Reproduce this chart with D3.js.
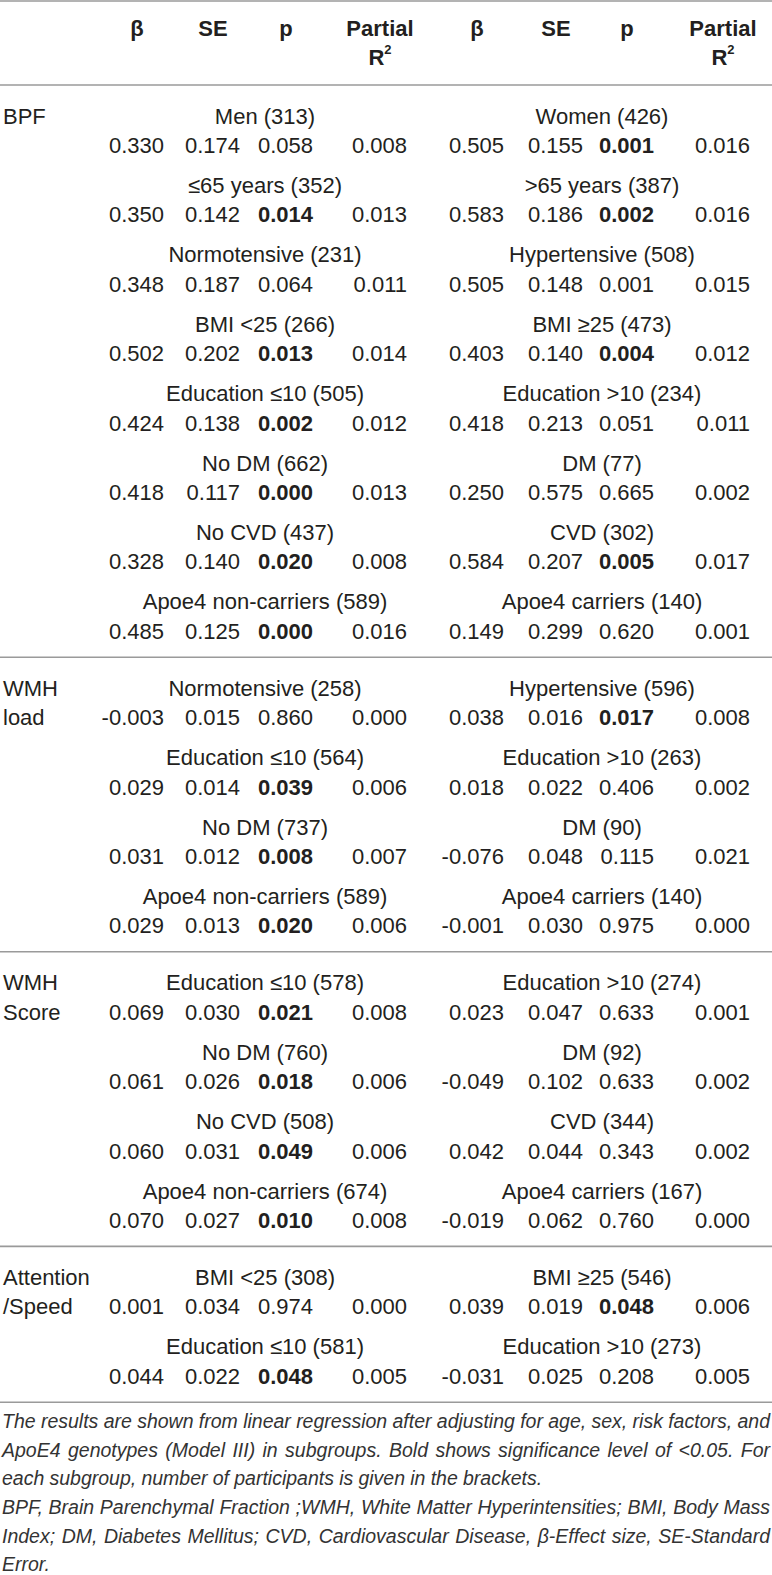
<!DOCTYPE html>
<html>
<head>
<meta charset="utf-8">
<script src="https://cdn.jsdelivr.net/npm/d3@7"></script>
<style>
  body { margin: 0; background: #fff; }
  svg { display: block; }
</style>
</head>
<body>
<div id="table"></div>
<script>
// column headings
const headers = ["β", "SE", "p", "Partial"];

// row headings of each block, and how many subgroup pairs each holds
const sectionLabels = [["BPF"], ["WMH", "load"], ["WMH", "Score"], ["Attention", "/Speed"]];
const sectionSizes = [8, 4, 4, 2];

const leftGroups = [
    "Men (313)", "≤65 years (352)", "Normotensive (231)", "BMI <25 (266)",
    "Education ≤10 (505)", "No DM (662)", "No CVD (437)", "Apoe4 non-carriers (589)",
    "Normotensive (258)", "Education ≤10 (564)", "No DM (737)", "Apoe4 non-carriers (589)",
    "Education ≤10 (578)", "No DM (760)", "No CVD (508)", "Apoe4 non-carriers (674)",
    "BMI <25 (308)", "Education ≤10 (581)"
];
const rightGroups = [
    "Women (426)", ">65 years (387)", "Hypertensive (508)", "BMI ≥25 (473)",
    "Education >10 (234)", "DM (77)", "CVD (302)", "Apoe4 carriers (140)",
    "Hypertensive (596)", "Education >10 (263)", "DM (90)", "Apoe4 carriers (140)",
    "Education >10 (274)", "DM (92)", "CVD (344)", "Apoe4 carriers (167)",
    "BMI ≥25 (546)", "Education >10 (273)"
];

// β, SE, p, partial R²
const leftValues = [
    [0.330, 0.174, 0.058, 0.008], [0.350, 0.142, 0.014, 0.013],
    [0.348, 0.187, 0.064, 0.011], [0.502, 0.202, 0.013, 0.014],
    [0.424, 0.138, 0.002, 0.012], [0.418, 0.117, 0.000, 0.013],
    [0.328, 0.140, 0.020, 0.008], [0.485, 0.125, 0.000, 0.016],
    [-0.003, 0.015, 0.860, 0.000], [0.029, 0.014, 0.039, 0.006],
    [0.031, 0.012, 0.008, 0.007], [0.029, 0.013, 0.020, 0.006],
    [0.069, 0.030, 0.021, 0.008], [0.061, 0.026, 0.018, 0.006],
    [0.060, 0.031, 0.049, 0.006], [0.070, 0.027, 0.010, 0.008],
    [0.001, 0.034, 0.974, 0.000], [0.044, 0.022, 0.048, 0.005]
];
const rightValues = [
    [0.505, 0.155, 0.001, 0.016], [0.583, 0.186, 0.002, 0.016],
    [0.505, 0.148, 0.001, 0.015], [0.403, 0.140, 0.004, 0.012],
    [0.418, 0.213, 0.051, 0.011], [0.250, 0.575, 0.665, 0.002],
    [0.584, 0.207, 0.005, 0.017], [0.149, 0.299, 0.620, 0.001],
    [0.038, 0.016, 0.017, 0.008], [0.018, 0.022, 0.406, 0.002],
    [-0.076, 0.048, 0.115, 0.021], [-0.001, 0.030, 0.975, 0.000],
    [0.023, 0.047, 0.633, 0.001], [-0.049, 0.102, 0.633, 0.002],
    [0.042, 0.044, 0.343, 0.002], [-0.019, 0.062, 0.760, 0.000],
    [0.039, 0.019, 0.048, 0.006], [-0.031, 0.025, 0.208, 0.005]
];
// p printed in bold (as in the source table)
const leftBold = [false, true, false, true, true, true, true, true,
                  false, true, true, true, true, true, true, true, false, true];
const rightBold = [true, true, false, true, false, false, true, false,
                   true, false, false, false, false, false, false, false, true, false];

const notes = [
    "The results are shown from linear regression after adjusting for age, sex, risk factors, and",
    "ApoE4 genotypes (Model III) in subgroups. Bold shows significance level of <0.05. For",
    "each subgroup, number of participants is given in the brackets.",
    "BPF, Brain Parenchymal Fraction ;WMH, White Matter Hyperintensities; BMI, Body Mass",
    "Index; DM, Diabetes Mellitus; CVD, Cardiovascular Disease, β-Effect size, SE-Standard",
    "Error."
];
const notesJustified = [true, true, false, true, true, false];

const width = 772, height = 1575;
const font = "'Liberation Sans', Arial, sans-serif";
const ink = "#231f20";
const ruleColor = "#9a9a9a";

const fmt = d3.formatLocale({decimal: ".", thousands: ",", grouping: [3], currency: ["", ""], minus: "-"}).format(".3f");

const svg = d3.select("#table").append("svg")
    .attr("width", width)
    .attr("height", height)
    .style("font-family", font)
    .style("font-size", "22px")
    .attr("fill", ink);

// right edge of each numeric column
const colKeys = ["lb", "lse", "lp", "lr", "rb", "rse", "rp", "rr"];
const colX = d3.scaleOrdinal().domain(colKeys).range([164, 240, 313, 407, 504, 583, 654, 750]);
const groupX = d3.scaleOrdinal().domain(["left", "right"]).range([265, 602]);

// vertical layout
const headerRule = 85, pairStep = 69.4;
const sectionH = sectionSizes.map(n => 17 + pairStep * n);
const sectionTop = [headerRule, ...d3.cumsum(sectionH).map(v => headerRule + v)];
const pairY = d3.scaleLinear().domain([0, 1]).range([0, pairStep]);

// rules
const rules = [1, ...sectionTop];
svg.selectAll("line.rule")
    .data(rules)
    .join("line")
    .attr("class", "rule")
    .attr("x1", 0).attr("x2", width)
    .attr("y1", d => d).attr("y2", d => d)
    .attr("stroke", ruleColor)
    .attr("stroke-width", 1.6);

// headers
const head = svg.append("g").attr("font-weight", "bold").attr("text-anchor", "middle");
colKeys.forEach((k, i) => {
    head.append("text")
        .attr("x", colX(k) - 27)
        .attr("y", 28)
        .attr("dominant-baseline", "central")
        .text(headers[i % 4]);
    if (i % 4 === 3) {
        const r = head.append("text")
            .attr("x", colX(k) - 27)
            .attr("y", 57)
            .attr("dominant-baseline", "central");
        r.append("tspan").text("R");
        r.append("tspan").attr("font-size", "13px").attr("dy", -8).text("2");
    }
});

// body rows
let row = 0;
sectionSizes.forEach((n, s) => {
    const top = sectionTop[s];
    sectionLabels[s].forEach((lab, j) => {
        svg.append("text")
            .attr("x", 3)
            .attr("y", top + 31 + j * 29.5)
            .attr("dominant-baseline", "central")
            .text(lab);
    });
    for (let k = 0; k < n; k++, row++) {
        const yl = top + 31 + pairY(k), yv = top + 60.5 + pairY(k);
        [["left", leftGroups, leftValues, leftBold, 0], ["right", rightGroups, rightValues, rightBold, 4]]
            .forEach(([side, groups, vals, bold, off]) => {
                svg.append("text")
                    .attr("x", groupX(side))
                    .attr("y", yl)
                    .attr("text-anchor", "middle")
                    .attr("dominant-baseline", "central")
                    .text(groups[row]);
                svg.append("g").selectAll("text")
                    .data(vals[row])
                    .join("text")
                    .attr("x", (d, i) => colX(colKeys[off + i]))
                    .attr("y", yv)
                    .attr("text-anchor", "end")
                    .attr("dominant-baseline", "central")
                    .attr("font-weight", (d, i) => i === 2 && bold[row] ? "bold" : null)
                    .text(d => fmt(d));
            });
    }
});

// footnote, justified line by line
const noteTop = sectionTop[sectionTop.length - 1] + 19;
const noteG = svg.append("g")
    .attr("font-style", "italic")
    .attr("font-size", "19.5px")
    .attr("fill", "#333");
notes.forEach((line, i) => {
    const y = noteTop + i * 28.6;
    const words = line.split(" ");
    const x0 = 2, x1 = width - 2;
    const ws = words.map(w => {
        const t = noteG.append("text").attr("y", y).attr("dominant-baseline", "central").text(w);
        return {t, w: t.node().getComputedTextLength()};
    });
    const space = 5.2;
    const total = d3.sum(ws, d => d.w);
    const gap = notesJustified[i] ? (x1 - x0 - total) / (words.length - 1) : space;
    let x = x0;
    ws.forEach(d => { d.t.attr("x", x); x += d.w + gap; });
});
</script>
</body>
</html>
